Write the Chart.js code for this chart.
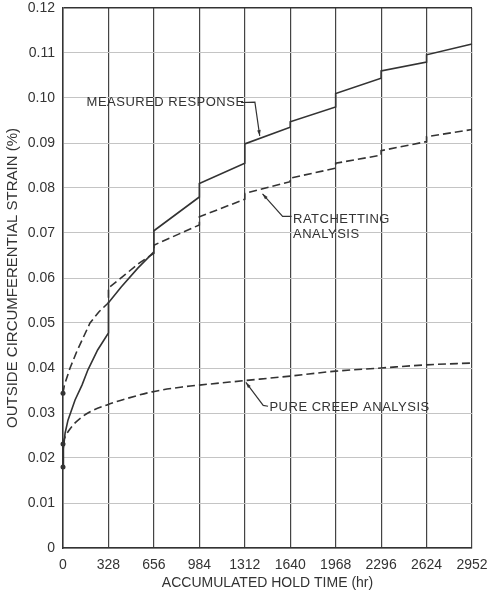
<!DOCTYPE html>
<html>
<head>
<meta charset="utf-8">
<script src="https://cdn.jsdelivr.net/npm/chart.js@4"></script>
<style>
  html, body { margin: 0; padding: 0; background: #fff; }
  #wrap { width: 490px; height: 592px; }
</style>
</head>
<body>
<div id="wrap"><canvas id="chart"></canvas></div>
<script>
// x ticks (accumulated hold time, hr) and y ticks (strain %)
const hourTicks = [0, 328, 656, 984, 1312, 1640, 1968, 2296, 2624, 2952];
const strainTicks = [0, 0.01, 0.02, 0.03, 0.04, 0.05, 0.06, 0.07, 0.08, 0.09, 0.10, 0.11, 0.12];

// measured response (solid)
const measuredHours  = [0, 3, 15, 36, 87, 137, 180, 250, 328, 328, 420, 540, 656, 656, 984, 984, 1312, 1312, 1640, 1640, 1968, 1968, 2296, 2296, 2624, 2624, 2952];
const measuredStrain = [0.018, 0.022, 0.0255, 0.0284, 0.0329, 0.0362, 0.0396, 0.044, 0.0478, 0.0545, 0.058, 0.0622, 0.0658, 0.0705, 0.078, 0.081, 0.0855, 0.0898, 0.0935, 0.0947, 0.098, 0.101, 0.1044, 0.106, 0.108, 0.1096, 0.112];

// ratchetting analysis (dashed)
const ratchetHours  = [0, 10, 51, 100, 195, 260, 328, 328, 450, 550, 656, 656, 984, 984, 1312, 1312, 1640, 1640, 1968, 1968, 2296, 2296, 2624, 2624, 2952];
const ratchetStrain = [0.0344, 0.0362, 0.040, 0.0437, 0.050, 0.0525, 0.0545, 0.0578, 0.0608, 0.0633, 0.0655, 0.0673, 0.0718, 0.0736, 0.0775, 0.0788, 0.0814, 0.0822, 0.0844, 0.0855, 0.0873, 0.0883, 0.0903, 0.0914, 0.093];

// pure creep analysis (dashed)
const creepHours  = [0, 5, 15, 40, 87, 180, 318, 470, 643, 867, 984, 1312, 1640, 1968, 2296, 2624, 2952];
const creepStrain = [0.0231, 0.0238, 0.0247, 0.026, 0.0278, 0.030, 0.0318, 0.0333, 0.0347, 0.0358, 0.0362, 0.0372, 0.0382, 0.0393, 0.040, 0.0407, 0.0411];

const INK = '#333';
const FONT = '"Liberation Sans", Arial, sans-serif';

function toPoints(xs, ys) {
    return xs.map((x, i) => ({ x: x, y: ys[i] }));
}

// start dot only on the first point
const firstDot = ctx => ctx.dataIndex === 0 ? 2.5 : 0;

// callout labels with leader lines, placed in data coords
const callouts = [
    { lines: ['MEASURED RESPONSE'], at: [170, 0.0990], leader: [[1285, 0.0990], [1385, 0.0991], [1420, 0.0916]] },
    { lines: ['RATCHETTING', 'ANALYSIS'], at: [1660, 0.0730], leader: [[1650, 0.0737], [1585, 0.0737], [1440, 0.0787]] },
    { lines: ['PURE CREEP ANALYSIS'], at: [1490, 0.0313], leader: [[1480, 0.0315], [1445, 0.0317], [1320, 0.0368]] }
];

const calloutPlugin = {
    id: 'callouts',
    afterDatasetsDraw(chart) {
        const { ctx, scales: { x, y } } = chart;
        ctx.save();
        ctx.fillStyle = INK;
        ctx.strokeStyle = INK;
        ctx.lineWidth = 1.2;
        ctx.font = '13px ' + FONT;
        ctx.letterSpacing = '0.5px';
        ctx.textBaseline = 'middle';
        callouts.forEach(c => {
            const px = x.getPixelForValue(c.at[0]);
            const py = y.getPixelForValue(c.at[1]);
            c.lines.forEach((t, i) => ctx.fillText(t, px, py + i * 15));
            const pts = c.leader.map(p => [x.getPixelForValue(p[0]), y.getPixelForValue(p[1])]);
            ctx.beginPath();
            pts.forEach((p, i) => i === 0 ? ctx.moveTo(p[0], p[1]) : ctx.lineTo(p[0], p[1]));
            ctx.stroke();
            // small arrow head at the tip
            const [a, b] = [pts[pts.length - 2], pts[pts.length - 1]];
            const ang = Math.atan2(b[1] - a[1], b[0] - a[0]);
            ctx.beginPath();
            ctx.moveTo(b[0], b[1]);
            ctx.lineTo(b[0] - 6 * Math.cos(ang - 0.3), b[1] - 6 * Math.sin(ang - 0.3));
            ctx.lineTo(b[0] - 6 * Math.cos(ang + 0.3), b[1] - 6 * Math.sin(ang + 0.3));
            ctx.closePath();
            ctx.fill();
        });
        ctx.restore();
    }
};

const lineStyle = {
    borderColor: INK,
    backgroundColor: INK,
    borderWidth: 1.6,
    pointRadius: firstDot,
    pointBorderWidth: 0,
    clip: false,
    tension: 0
};

new Chart(document.getElementById('chart'), {
    type: 'line',
    data: {
        datasets: [
            { label: 'Measured response', data: toPoints(measuredHours, measuredStrain), ...lineStyle },
            { label: 'Ratchetting analysis', data: toPoints(ratchetHours, ratchetStrain), ...lineStyle, borderDash: [8, 4] },
            { label: 'Pure creep analysis', data: toPoints(creepHours, creepStrain), ...lineStyle, borderDash: [8, 4], cubicInterpolationMode: 'monotone' }
        ]
    },
    options: {
        responsive: true,
        maintainAspectRatio: false,
        animation: false,
        layout: { padding: { left: 4, right: 18, top: 8, bottom: 0 } },
        plugins: { legend: { display: false }, tooltip: { enabled: false } },
        scales: {
            x: {
                type: 'linear',
                min: 0,
                max: 2952,
                afterBuildTicks: s => { s.ticks = hourTicks.map(v => ({ value: v })); },
                afterFit: s => { s.height = 44; s.paddingLeft = 0; s.paddingRight = 0; },
                ticks: {
                    color: INK,
                    padding: 9,
                    maxRotation: 0,
                    autoSkip: false,
                    callback: v => String(v),
                    font: { family: FONT, size: 14 }
                },
                grid: { color: '#444', lineWidth: 1.2, drawTicks: false },
                border: { color: '#333', width: 1.5 },
                title: {
                    display: true,
                    text: 'ACCUMULATED HOLD TIME (hr)',
                    color: INK,
                    padding: { top: 0, bottom: 0 },
                    font: { family: FONT, size: 14 }
                }
            },
            y: {
                min: 0,
                max: 0.12,
                afterBuildTicks: s => { s.ticks = strainTicks.map(v => ({ value: v })); },
                afterFit: s => { s.width = 59; s.paddingTop = 0; s.paddingBottom = 0; },
                ticks: {
                    color: INK,
                    padding: 8,
                    callback: v => v === 0 ? '0' : v.toFixed(2),
                    font: { family: FONT, size: 14 }
                },
                grid: {
                    color: c => (c.tick && (c.tick.value === 0.12)) ? '#333' : '#c4c4c4',
                    lineWidth: c => (c.tick && (c.tick.value === 0.12)) ? 1.5 : 1,
                    drawTicks: false
                },
                border: { color: '#333', width: 1.5 },
                title: {
                    display: true,
                    text: 'OUTSIDE CIRCUMFERENTIAL STRAIN (%)',
                    color: INK,
                    padding: { top: 0, bottom: 4 },
                    font: { family: FONT, size: 15 }
                }
            }
        }
    },
    plugins: [calloutPlugin]
});
</script>
</body>
</html>
